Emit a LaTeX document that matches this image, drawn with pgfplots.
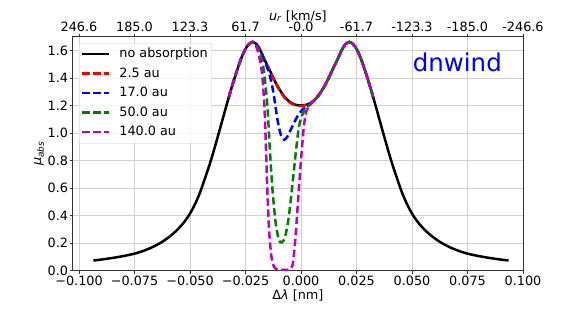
\documentclass[border=0pt]{standalone}
\usepackage{fontspec}
\setmainfont{DejaVu Sans}
\usepackage{pgfplots}
\pgfplotsset{compat=1.18}
\definecolor{mplgreen}{rgb}{0,0.5,0}
\definecolor{mplmag}{rgb}{0.75,0,0.75}
\newcommand\fs{\fontsize{12.8bp}{15bp}\selectfont}
\begin{document}
\begin{tikzpicture}
\path[use as bounding box] (0,0) rectangle (581bp,310bp);
\begin{axis}[
  at={(72.7bp,39.3bp)}, anchor=south west, scale only axis,
  width=450.3bp, height=234bp,
  xmin=-0.10284, xmax=0.1, ymin=0, ymax=1.7,
  xtick={-0.1,-0.075,-0.05,-0.025,0,0.025,0.05,0.075,0.1},
  xticklabels={−0.100,−0.075,−0.050,−0.025,0.000,0.025,0.050,0.075,0.100},
  ytick={0,0.2,0.4,0.6,0.8,1.0,1.2,1.4,1.6},
  yticklabels={0.0,0.2,0.4,0.6,0.8,1.0,1.2,1.4,1.6},
  xtick pos=bottom, ytick pos=left, tick align=outside,
  major tick length=3bp,
  tick style={black!80, line width=0.8bp},
  axis line style={black!80, line width=0.8bp},
  grid=major, major grid style={black!18, line width=0.8bp},
  ticklabel style={font=\fs},
  xticklabel style={inner sep=2bp},
  yticklabel style={inner sep=1.5bp},
  xlabel={Δ\textit{λ} [nm]},
  ylabel={\textit{μ}\textsubscript{\textit{abs}}},
  label style={font=\fs},
  xlabel style={at={(axis description cs:0.5,-0.107)}, anchor=center},
  ylabel style={at={(axis description cs:-0.0745,0.5)}, anchor=center},
  legend style={at={(0.014,0.973)}, anchor=north west, font=\fs,
    draw=black!20, rounded corners=2bp, fill=white, fill opacity=0.8, text opacity=1,
    inner xsep=2bp, inner ysep=3bp, row sep=3.5bp, column sep=6.7bp,
    nodes={inner sep=2bp, text height=9.5bp, text depth=2.5bp}},
  legend cell align=left,
  legend image code/.code={\draw[#1] (0bp,0bp) -- (27bp,0bp);},
]
\addplot[black, solid, line width=2.5bp, smooth, tension=0.5] coordinates {
(-0.0935,0.074) (-0.089,0.083) (-0.084,0.095) (-0.0795,0.108) (-0.075,0.124) (-0.071,0.144) (-0.0675,0.167) (-0.065,0.187) (-0.0625,0.210) (-0.060,0.238)
(-0.0575,0.270) (-0.055,0.309) (-0.0525,0.356) (-0.050,0.415) (-0.048,0.475) (-0.0458,0.555) (-0.0437,0.650) (-0.0416,0.750) (-0.0400,0.833) (-0.0387,0.905)
(-0.0372,0.990) (-0.0357,1.077) (-0.0340,1.176) (-0.0325,1.261) (-0.031,1.344) (-0.029,1.446) (-0.027,1.540) (-0.025,1.612)
(-0.0235,1.645) (-0.0218,1.662) (-0.020,1.645) (-0.0185,1.607) (-0.0165,1.537) (-0.0145,1.470)
(-0.012,1.385) (-0.010,1.325) (-0.0075,1.265) (-0.0055,1.232) (-0.003,1.208) (0,1.200)
(0.003,1.208) (0.0055,1.232) (0.0075,1.265) (0.010,1.325) (0.012,1.385) (0.0145,1.470)
(0.0165,1.537) (0.0185,1.607) (0.020,1.645) (0.0218,1.662) (0.0235,1.645) (0.025,1.612)
(0.027,1.540) (0.029,1.446) (0.031,1.344) (0.0325,1.261) (0.0340,1.176) (0.0357,1.077) (0.0372,0.990) (0.0387,0.905) (0.0400,0.833)
(0.0416,0.750) (0.0437,0.650) (0.0458,0.555) (0.048,0.475) (0.050,0.415) (0.0525,0.356) (0.055,0.309) (0.0575,0.270) (0.060,0.238)
(0.0625,0.210) (0.065,0.187) (0.0675,0.167) (0.071,0.144) (0.075,0.124) (0.0795,0.108) (0.084,0.095) (0.089,0.083) (0.0935,0.074)
};
\addlegendentry{no absorption}
\addplot[red, line width=2.5bp, dash pattern=on 7.3bp off 3.7bp, smooth, tension=0.5] coordinates {
(-0.0325,1.261) (-0.031,1.344) (-0.029,1.446) (-0.027,1.540) (-0.025,1.612)
(-0.0235,1.645) (-0.0218,1.662) (-0.020,1.645) (-0.0185,1.605) (-0.0165,1.534) (-0.0145,1.466)
(-0.012,1.380) (-0.010,1.319) (-0.0075,1.259) (-0.0055,1.227) (-0.003,1.204) (0,1.197)
(0.003,1.207) (0.0055,1.232) (0.0075,1.265) (0.010,1.325) (0.012,1.385) (0.0145,1.470)
(0.0165,1.537) (0.0185,1.607) (0.020,1.645) (0.0218,1.662) (0.0235,1.645) (0.025,1.612)
(0.027,1.540) (0.029,1.446) (0.031,1.344) (0.0325,1.261)
};
\addlegendentry{2.5 au}
\addplot[blue, line width=2.5bp, dash pattern=on 7.3bp off 3.7bp, smooth, tension=0.5] coordinates {
(-0.0325,1.261) (-0.031,1.344) (-0.029,1.446) (-0.027,1.540) (-0.025,1.612)
(-0.0235,1.645) (-0.0218,1.662) (-0.020,1.643) (-0.0185,1.600) (-0.0165,1.525) (-0.0152,1.475)
(-0.0141,1.420) (-0.0131,1.350) (-0.0121,1.260) (-0.0106,1.097) (-0.0091,0.988) (-0.0076,0.951)
(-0.0061,0.976) (-0.0039,1.049) (-0.0016,1.121) (0.0006,1.170) (0.0028,1.194) (0.0045,1.215)
(0.0075,1.265) (0.010,1.325) (0.012,1.385) (0.0145,1.470)
(0.0165,1.537) (0.0185,1.607) (0.020,1.645) (0.0218,1.662) (0.0235,1.645) (0.025,1.612)
(0.027,1.540) (0.029,1.446) (0.031,1.344) (0.0325,1.261)
};
\addlegendentry{17.0 au}
\addplot[mplgreen, line width=2.5bp, dash pattern=on 7.3bp off 3.7bp, smooth, tension=0.5] coordinates {
(-0.0325,1.261) (-0.031,1.344) (-0.029,1.446) (-0.027,1.540) (-0.025,1.612)
(-0.0235,1.645) (-0.0218,1.662) (-0.0205,1.645) (-0.0185,1.585) (-0.0170,1.480) (-0.0160,1.350)
(-0.0151,1.190) (-0.0141,0.900) (-0.0129,0.600) (-0.0114,0.345) (-0.0099,0.223) (-0.0087,0.205)
(-0.0072,0.245) (-0.0056,0.380) (-0.0039,0.620) (-0.0024,0.850) (-0.0009,1.049) (0.0006,1.133)
(0.0021,1.182) (0.0036,1.200) (0.0055,1.232) (0.0075,1.265) (0.010,1.325) (0.012,1.385) (0.0145,1.470)
(0.0165,1.537) (0.0185,1.607) (0.020,1.645) (0.0218,1.662) (0.0235,1.645) (0.025,1.612)
(0.027,1.540) (0.029,1.446) (0.031,1.344) (0.0325,1.261)
};
\addlegendentry{50.0 au}
\addplot[mplmag, line width=2.5bp, dash pattern=on 7.3bp off 3.7bp, smooth, tension=0.4] coordinates {
(-0.0325,1.261) (-0.031,1.344) (-0.029,1.446) (-0.027,1.540) (-0.025,1.612)
(-0.0235,1.645) (-0.0218,1.662) (-0.0205,1.640) (-0.0192,1.580) (-0.0176,1.440) (-0.0166,1.230)
(-0.0159,0.950) (-0.0152,0.600) (-0.0144,0.300) (-0.0134,0.110) (-0.0122,0.030) (-0.0106,0.008)
(-0.0080,0.006) (-0.0054,0.008) (-0.0038,0.040) (-0.0026,0.220) (-0.0013,0.515) (0.0000,0.806) (0.0013,1.050)
(0.0024,1.158) (0.0038,1.200) (0.0055,1.232) (0.0075,1.265) (0.010,1.325) (0.012,1.385) (0.0145,1.470)
(0.0165,1.537) (0.0185,1.607) (0.020,1.645) (0.0218,1.662) (0.0235,1.645) (0.025,1.612)
(0.027,1.540) (0.029,1.446) (0.031,1.344) (0.0325,1.261)
};
\addlegendentry{140.0 au}
\node[blue, font=\fontsize{24.5bp}{28bp}\selectfont, anchor=center] at (axis cs:0.0704,1.513) {dnwind};
\end{axis}
\begin{axis}[
  at={(72.7bp,39.3bp)}, anchor=south west, scale only axis,
  width=450.3bp, height=234bp,
  xmin=-0.10284, xmax=0.1, ymin=0, ymax=1.7,
  axis x line*=top, axis y line=none,
  xtick={-0.1,-0.075,-0.05,-0.025,0,0.025,0.05,0.075,0.1},
  xticklabels={246.6,185.0,123.3,61.7,-0.0,-61.7,-123.3,-185.0,-246.6},
  tick align=outside, major tick length=3bp,
  tick style={black!80, line width=0.8bp},
  axis line style={black!80, line width=0.8bp},
  ticklabel style={font=\fs},
  xticklabel style={inner sep=2bp},
  xlabel={\textit{u}\textsubscript{\textit{r}} [km/s]},
  label style={font=\fs},
  xlabel style={at={(axis description cs:0.5,1.088)}, anchor=center},
]
\end{axis}
\end{tikzpicture}
\end{document}
